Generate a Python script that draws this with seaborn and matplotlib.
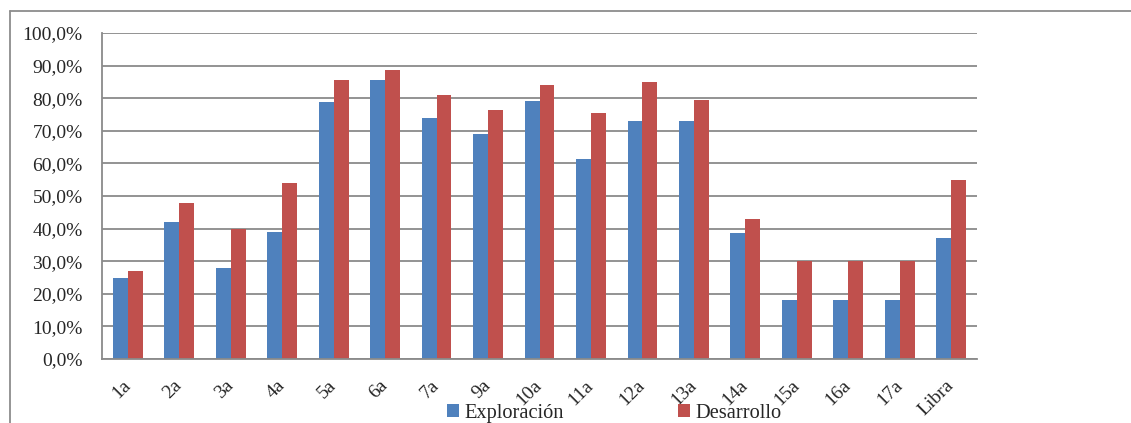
import matplotlib
matplotlib.use("Agg")
import matplotlib.pyplot as plt
import matplotlib.lines as mlines
import matplotlib.patches as mpatches
import matplotlib.transforms as mtransforms
from matplotlib.ticker import FuncFormatter, MultipleLocator, FixedLocator
import seaborn as sns
import pandas as pd
import numpy as np

categories = ["1a", "2a", "3a", "4a", "5a", "6a", "7a", "9a", "10a", "11a", "12a", "13a",
              "14a", "15a", "16a", "17a", "Libra"]
exploracion = [25, 42, 28, 39, 78.7, 85.5, 74, 69, 79, 61.5, 73, 73, 38.8, 18, 18, 18, 37]
desarrollo = [27, 48, 40, 54, 85.5, 88.7, 81, 76.5, 84, 75.5, 85, 79.5, 43, 30, 30, 30, 55]
series_names = ["Exploración", "Desarrollo"]
colors = ["#4F81BD", "#C0504D"]

df = pd.DataFrame({
    "cat": categories * 2,
    "val": exploracion + desarrollo,
    "serie": [series_names[0]] * len(categories) + [series_names[1]] * len(categories),
})

sns.set_style("white")
plt.rcParams["font.family"] = ["Liberation Serif", "DejaVu Serif"]

W, H = 1131, 423
fig = plt.figure(figsize=(W / 100, H / 100), dpi=100)
ax = fig.add_axes([102 / W, 1 - 359 / H, (977 - 102) / W, (359 - 33) / H])

sns.barplot(data=df, x="cat", y="val", hue="serie", order=categories,
            hue_order=series_names, palette=colors, width=0.58, ax=ax,
            linewidth=0, saturation=1, legend=False)

ax.set_xlim(-0.5, len(categories) - 0.5)
ax.set_ylim(0, 100)
ax.yaxis.set_major_locator(MultipleLocator(10))
ax.yaxis.set_major_formatter(FuncFormatter(lambda v, p: f"{v:.1f}%".replace(".", ",")))
ax.grid(axis="y", color="#8a8a8a", linewidth=1.3)
ax.set_axisbelow(True)
ax.set_xlabel("")
ax.set_ylabel("")

for s in ["top", "right"]:
    ax.spines[s].set_visible(False)
for s in ["left", "bottom"]:
    ax.spines[s].set_color("#8a8a8a")
    ax.spines[s].set_linewidth(1.3)

ax.set_xticks(range(len(categories)))
ax.set_xticklabels(categories, rotation=45, ha="right", va="top", fontsize=14)
ax.tick_params(axis="x", which="major", length=0, pad=13)
offset = mtransforms.ScaledTranslation(6 / 100, 0, fig.dpi_scale_trans)
for lab in ax.get_xticklabels():
    lab.set_transform(lab.get_transform() + offset)
ax.xaxis.set_minor_locator(FixedLocator(np.arange(-0.5, len(categories), 1.0)))
ax.tick_params(axis="x", which="minor", length=5, color="#8a8a8a", width=1.3, direction="out")
ax.tick_params(axis="y", length=5, color="#8a8a8a", width=1.3, direction="out", labelsize=14, pad=9)

handles = [mpatches.Patch(facecolor=c, edgecolor="none", label=n) for c, n in zip(colors, series_names)]
fig.legend(handles=handles, loc="center left", bbox_to_anchor=(447 / W, 1 - 413 / H),
           ncol=2, frameon=False, fontsize=14.7, handlelength=0.6, handleheight=0.6,
           handletextpad=0.25, columnspacing=5.6, borderpad=0, borderaxespad=0)

# outer border (top and left)
bc = "#8c8c8c"
fig.add_artist(mlines.Line2D([10 / W, 10 / W], [0, 1 - 11 / H], color=bc, linewidth=1.3,
                             transform=fig.transFigure))
fig.add_artist(mlines.Line2D([10 / W, 1], [1 - 11 / H, 1 - 11 / H], color=bc, linewidth=1.3,
                             transform=fig.transFigure))

fig.savefig("out.png", dpi=100)
